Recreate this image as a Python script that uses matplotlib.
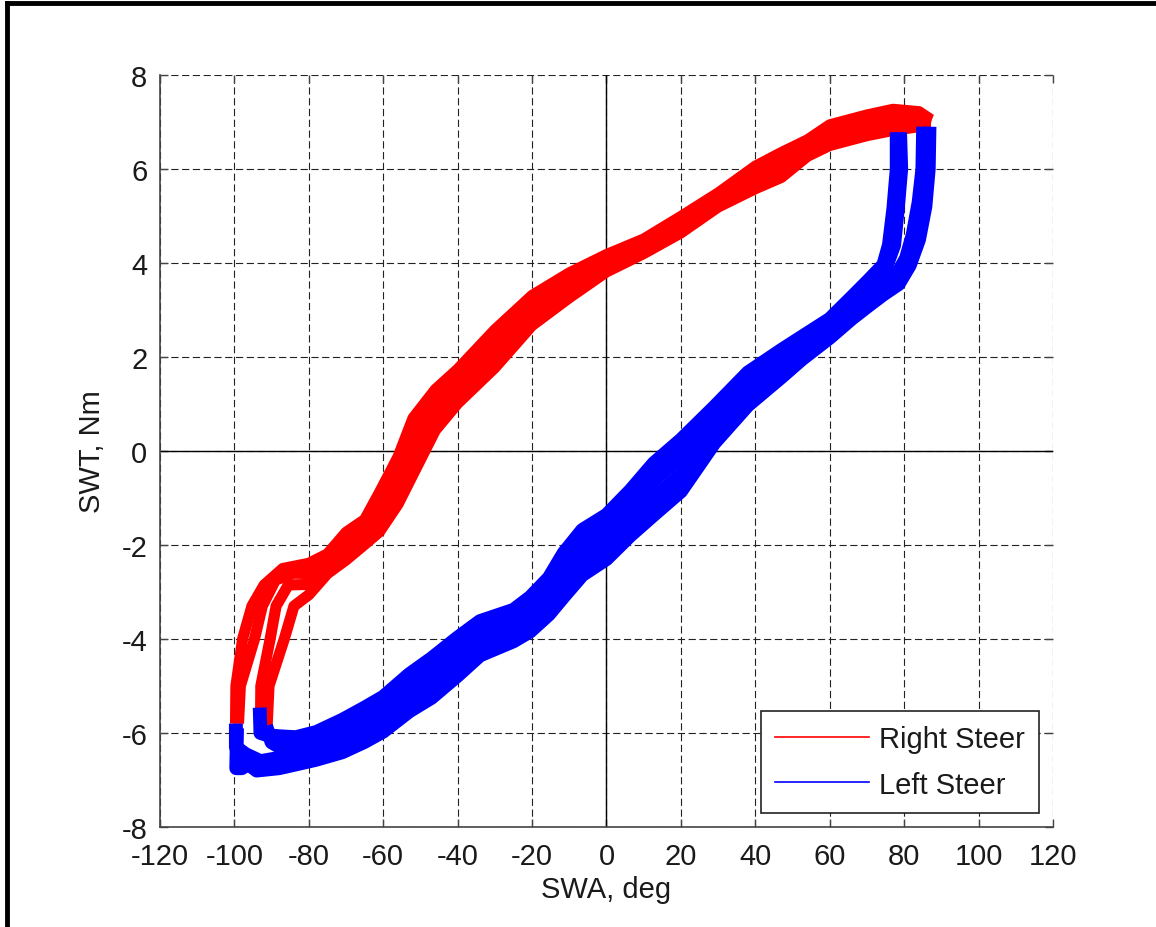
import matplotlib
matplotlib.use('Agg')
import matplotlib.pyplot as plt
from matplotlib.lines import Line2D

plt.rcParams['font.family'] = ['Liberation Sans', 'DejaVu Sans']
plt.rcParams['axes.unicode_minus'] = False

# ---- data: SWA (deg) vs SWT (Nm), several overlaid runs ----
# right steer runs (red), outer edge -> inner edge
red_a_x = [-99.7, -99.6, -97.8, -95.3, -92, -87, -80, -75, -70, -65, -61, -56, -52, -46, -40, -30, -20, -10, 0, 10, 20, 30, 40, 47, 54, 60, 70, 77, 84, 87.2]
red_a_y = [-5.8, -5.0, -4.0, -3.3, -2.85, -2.5, -2.39, -2.19, -1.73, -1.46, -0.88, -0.12, 0.70, 1.31, 1.74, 2.58, 3.31, 3.79, 4.18, 4.51, 4.99, 5.49, 6.06, 6.35, 6.62, 6.94, 7.15, 7.27, 7.22, 7.05]
red_b_x = [-98.9, -98.4, -94.6, -92.5, -89, -84, -80, -75, -70, -65, -61, -56, -52, -46, -40, -30, -20, -10, 0, 10, 20, 30, 40, 47, 54, 60, 70, 77, 84, 87.2]
red_b_y = [-5.8, -5.0, -4.0, -3.3, -2.75, -2.6, -2.61, -2.33, -1.92, -1.64, -1.16, -0.45, 0.30, 1.03, 1.50, 2.31, 3.10, 3.62, 4.06, 4.41, 4.87, 5.39, 5.90, 6.18, 6.50, 6.80, 7.01, 7.13, 7.10, 7.0]
red_c_x = [-93.0, -92.9, -90.4, -88.8, -85.5, -80, -75, -70, -65, -61, -56, -52, -46, -40, -30, -20, -10, 0, 10, 20, 30, 40, 47, 54, 60, 70, 77, 84, 87.2]
red_c_y = [-5.85, -5.0, -4.0, -3.3, -2.85, -2.84, -2.47, -2.13, -1.82, -1.44, -0.80, -0.10, 0.73, 1.25, 2.04, 2.88, 3.44, 3.93, 4.30, 4.76, 5.29, 5.74, 5.99, 6.38, 6.64, 6.85, 6.99, 6.98, 6.95]
red_d_x = [-91.2, -90.7, -86.6, -84.0, -80, -75, -70, -65, -61, -56, -52, -46, -40, -30, -20, -10, 0, 10, 20, 30, 40, 47, 54, 60, 70, 77, 84, 87.2]
red_d_y = [-5.85, -5.0, -4.0, -3.3, -3.06, -2.61, -2.32, -1.99, -1.72, -1.13, -0.50, 0.44, 1.01, 1.77, 2.67, 3.26, 3.81, 4.20, 4.64, 5.19, 5.58, 5.82, 6.27, 6.50, 6.71, 6.82, 6.90, 6.92]

# left steer runs (blue), upper edge -> lower edge
blue_a_x = [-93.2, -93.0, -91, -88, -83.5, -78, -71, -65, -60, -53, -47, -40, -34, -25, -20.5, -15.5, -11.5, -6.5, 0, 6.4, 12.7, 20, 29, 38, 47, 52.5, 60, 66, 70.4, 74.4, 75.9, 77.1, 78.0, 78.0]
blue_a_y = [-5.46, -6.0, -6.05, -6.07, -6.09, -5.98, -5.72, -5.46, -5.23, -4.75, -4.41, -3.97, -3.62, -3.38, -3.11, -2.70, -2.17, -1.68, -1.36, -0.84, -0.26, 0.24, 0.94, 1.67, 2.15, 2.43, 2.81, 3.28, 3.63, 3.96, 4.38, 5.16, 6.0, 6.78]
blue_b_x = [-91.5, -90, -88, -83.5, -78, -71, -65, -60, -53, -47, -40, -34, -25, -20.5, -15.5, -11.5, -6.5, 0, 6.4, 12.7, 20, 29, 38, 47, 52.5, 60, 66, 70.4, 74.4, 77.3, 78.3, 79.2, 78.9]
blue_b_y = [-5.85, -6.2, -6.29, -6.28, -6.17, -5.95, -5.70, -5.47, -5.01, -4.69, -4.24, -3.86, -3.60, -3.35, -2.96, -2.48, -2.0, -1.67, -1.16, -0.62, -0.12, 0.69, 1.44, 1.96, 2.27, 2.68, 3.13, 3.45, 3.75, 4.38, 5.16, 6.0, 6.78]
blue_c_x = [-99.6, -99.6, -97, -93, -88, -83.5, -78, -71, -65, -60, -53, -47, -40, -34, -25, -20.5, -15.5, -11.5, -6.5, 0, 6.4, 12.7, 20, 29, 38, 47, 52.5, 60, 66, 70.4, 74.4, 78, 80.5, 82.3, 83.9, 84.9, 85.1]
blue_c_y = [-5.8, -6.3, -6.45, -6.6, -6.53, -6.48, -6.38, -6.18, -5.95, -5.73, -5.28, -4.97, -4.51, -4.11, -3.83, -3.60, -3.22, -2.79, -2.33, -1.99, -1.48, -1.0, -0.50, 0.42, 1.20, 1.76, 2.11, 2.54, 2.97, 3.27, 3.54, 3.75, 4.1, 4.6, 5.3, 6.0, 6.9]
blue_d_x = [-99.3, -99.5, -98, -96.5, -94, -88, -83.5, -78, -71, -65, -60, -53, -47, -40, -34, -25, -20.5, -15.5, -11.5, -6.5, 0, 6.4, 12.7, 20, 29, 38, 47, 52.5, 60, 66, 70.4, 74.4, 78.5, 81.5, 84, 85.7, 86.6, 86.8]
blue_d_y = [-5.9, -6.75, -6.75, -6.65, -6.8, -6.75, -6.67, -6.57, -6.41, -6.19, -5.97, -5.54, -5.25, -4.78, -4.35, -4.05, -3.84, -3.48, -3.10, -2.64, -2.30, -1.80, -1.36, -0.86, 0.17, 0.97, 1.57, 1.95, 2.41, 2.82, 3.09, 3.33, 3.55, 3.95, 4.5, 5.2, 6.0, 6.9]

red_runs = [(red_a_x, red_a_y), (red_b_x, red_b_y), (red_c_x, red_c_y), (red_d_x, red_d_y)]
blue_runs = [(blue_a_x, blue_a_y), (blue_b_x, blue_b_y), (blue_c_x, blue_c_y), (blue_d_x, blue_d_y)]

x_ticks = list(range(-120, 121, 20))
y_ticks = list(range(-8, 9, 2))

fig = plt.figure(figsize=(11.56, 9.28), dpi=100)
ax = fig.add_axes([0.1384, 0.1078, 0.7725, 0.8103])

for xs, ys in red_runs:
    ax.plot(xs, ys, color='#ff0000', lw=8, solid_capstyle='butt', solid_joinstyle='round', zorder=3)
for xs, ys in blue_runs:
    ax.plot(xs, ys, color='#0000ff', lw=10, solid_capstyle='butt', solid_joinstyle='round', zorder=3)

# axes through the origin
ax.axhline(0, color='black', lw=1, zorder=2)
ax.axvline(0, color='black', lw=1, zorder=2)

ax.set_xlim(-120, 120)
ax.set_ylim(-8, 8)
ax.set_xticks(x_ticks)
ax.set_yticks(y_ticks)
ax.grid(True, color='#222222', lw=0.8, linestyle=(0, (6.5, 3.2)))
ax.spines['top'].set_visible(False)
ax.spines['right'].set_visible(False)
for s in ['left', 'bottom']:
    ax.spines[s].set_color('#444444')
    ax.spines[s].set_linewidth(1.2)
ax.tick_params(direction='in', length=6, width=1, color='#444444', top=True, right=True,
               labelsize=21, labelcolor='#1a1a1a')
ax.tick_params(axis='y', pad=9)
ax.tick_params(axis='x', pad=11)

ax.set_xlabel('SWA, deg', fontsize=21, color='#1a1a1a')
ax.set_ylabel('SWT, Nm', fontsize=21, color='#1a1a1a')
ax.xaxis.set_label_coords(0.5, -0.064)
ax.yaxis.set_label_coords(-0.06, 0.5)

handles = [Line2D([], [], color='#ff0000', lw=1.2), Line2D([], [], color='#0000ff', lw=1.2)]
leg = ax.legend(handles, ['Right Steer', 'Left Steer'], loc='lower right',
                bbox_to_anchor=(0.9846, 0.0182), borderaxespad=0, fontsize=21,
                fancybox=False, shadow=False, framealpha=1, edgecolor='#222222',
                handlelength=3.2, handletextpad=0.35, borderpad=0.5, labelspacing=0.6)
leg.get_frame().set_linewidth(1.2)
for t in leg.get_texts():
    t.set_color('#1a1a1a')

# black frame of the original figure (left and top edges)
fig.add_artist(Line2D([0.0058, 0.0058], [0, 0.996], transform=fig.transFigure, color='black', lw=3.5))
fig.add_artist(Line2D([0.0058, 1], [0.9955, 0.9955], transform=fig.transFigure, color='black', lw=3.5))

fig.savefig('out.png', dpi=100)
